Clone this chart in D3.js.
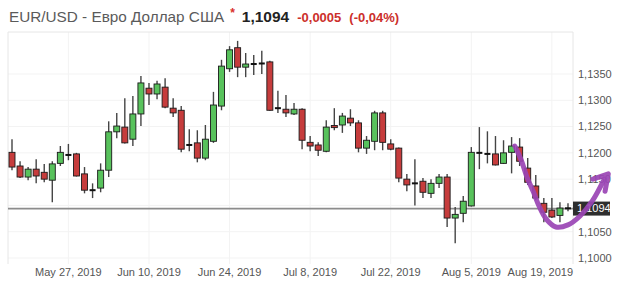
<!DOCTYPE html>
<html><head><meta charset="utf-8">
<script src="https://cdn.jsdelivr.net/npm/d3@7"></script>
<style>
body{margin:0;background:#fff;}
svg{display:block;font-family:"Liberation Sans",Arial,sans-serif;}
</style>
</head><body>
<svg id="chart" width="620" height="282"></svg>
<script>
const dates = [
 "2019-05-16","2019-05-17","2019-05-20","2019-05-21","2019-05-22","2019-05-23","2019-05-24","2019-05-27","2019-05-28","2019-05-29","2019-05-30","2019-05-31",
 "2019-06-03","2019-06-04","2019-06-05","2019-06-06","2019-06-07","2019-06-10","2019-06-11","2019-06-12","2019-06-13","2019-06-14","2019-06-17","2019-06-18","2019-06-19","2019-06-20","2019-06-21","2019-06-24","2019-06-25","2019-06-26","2019-06-27","2019-06-28",
 "2019-07-01","2019-07-02","2019-07-03","2019-07-04","2019-07-05","2019-07-08","2019-07-09","2019-07-10","2019-07-11","2019-07-12","2019-07-15","2019-07-16","2019-07-17","2019-07-18","2019-07-19","2019-07-22","2019-07-23","2019-07-24","2019-07-25","2019-07-26","2019-07-29","2019-07-30","2019-07-31",
 "2019-08-01","2019-08-02","2019-08-05","2019-08-06","2019-08-07","2019-08-08","2019-08-09","2019-08-12","2019-08-13","2019-08-14","2019-08-15","2019-08-16","2019-08-19","2019-08-20","2019-08-21"
];
const openP  = [1.1201,1.1175,1.1154,1.1169,1.1163,1.1148,1.1180,1.1197,1.1198,1.1160,1.1130,1.1133,
 1.1167,1.1240,1.1249,1.1226,1.1274,1.1323,1.1312,1.1325,1.1285,1.1281,1.1216,1.1219,1.1190,1.1222,1.1289,1.1360,1.1400,1.1363,1.1370,1.1369,
 1.1373,1.1286,1.1283,1.1274,1.1283,1.1220,1.1215,1.1203,1.1252,1.1253,1.1266,1.1257,1.1209,1.1222,1.1276,1.1217,1.1209,1.1150,1.1143,1.1146,1.1123,1.1142,1.1154,
 1.1076,1.1085,1.1099,1.1201,1.1199,1.1198,1.1180,1.1201,1.1211,1.1171,1.1137,1.1104,1.1091,1.1081,1.1095];
const highP  = [1.1226,1.1184,1.1173,1.1188,1.1179,1.1184,1.1213,1.1217,1.1200,1.1173,1.1142,1.1180,
 1.1260,1.1276,1.1304,1.1308,1.1346,1.1333,1.1337,1.1342,1.1304,1.1289,1.1245,1.1243,1.1253,1.1316,1.1377,1.1403,1.1413,1.1390,1.1386,1.1394,
 1.1375,1.1318,1.1310,1.1295,1.1285,1.1232,1.1220,1.1262,1.1285,1.1276,1.1283,1.1262,1.1232,1.1280,1.1280,1.1226,1.1210,1.1160,1.1188,1.1152,1.1150,1.1160,1.1160,
 1.1097,1.1118,1.1211,1.1249,1.1241,1.1232,1.1224,1.1230,1.1228,1.1190,1.1158,1.1114,1.1114,1.1106,1.1104];
const lowP   = [1.1167,1.1152,1.1148,1.1142,1.1144,1.1106,1.1175,1.1186,1.1155,1.1123,1.1114,1.1125,
 1.1154,1.1228,1.1218,1.1213,1.1251,1.1291,1.1302,1.1285,1.1268,1.1201,1.1203,1.1182,1.1186,1.1219,1.1281,1.1354,1.1344,1.1344,1.1348,1.1350,
 1.1280,1.1276,1.1268,1.1272,1.1207,1.1203,1.1194,1.1201,1.1243,1.1238,1.1251,1.1201,1.1198,1.1205,1.1205,1.1205,1.1144,1.1127,1.1100,1.1114,1.1114,1.1133,1.1059,
 1.1028,1.1068,1.1098,1.1169,1.1180,1.1176,1.1179,1.1161,1.1175,1.1139,1.1110,1.1068,1.1076,1.1068,1.1089];
const closeP = [1.1173,1.1154,1.1169,1.1156,1.1150,1.1179,1.1201,1.1195,1.1156,1.1129,1.1128,1.1167,
 1.1240,1.1251,1.1219,1.1274,1.1333,1.1312,1.1331,1.1287,1.1276,1.1207,1.1214,1.1190,1.1226,1.1291,1.1365,1.1396,1.1363,1.1369,1.1368,1.1371,
 1.1281,1.1284,1.1276,1.1283,1.1224,1.1213,1.1205,1.1249,1.1248,1.1270,1.1257,1.1209,1.1224,1.1276,1.1220,1.1207,1.1152,1.1139,1.1141,1.1125,1.1142,1.1154,1.1076,
 1.1083,1.1108,1.1201,1.1199,1.1197,1.1177,1.1200,1.1213,1.1184,1.1144,1.1114,1.1087,1.1078,1.1095,1.1094];

const yTicks = [1.1000,1.1050,1.1100,1.1150,1.1200,1.1250,1.1300,1.1350];
const xTickDates = ["2019-05-27","2019-06-10","2019-06-24","2019-07-08","2019-07-22","2019-08-05","2019-08-19"];
const xTickLabels = ["May 27, 2019","Jun 10, 2019","Jun 24, 2019","Jul 8, 2019","Jul 22, 2019","Aug 5, 2019","Aug 19, 2019"];
const lastPrice = 1.1094;
const titleName = "EUR/USD - Евро Доллар США";
const titlePrice = "1,1094";
const titleChange = "-0,0005";
const titlePct = "(-0,04%)";
// hand-drawn annotation arrow, in (candle index, price) units
const arrowIdx   = [62.4,63.2,63.9,64.7,65.4,66.3,67.5,69.0,70.5,72.0,73.5];
const arrowPrice = [1.1213,1.1186,1.1154,1.1126,1.1099,1.1074,1.1059,1.1063,1.1080,1.1108,1.1150];
const headIdx    = [72.1,74.0,73.6];
const headPrice  = [1.1150,1.1160,1.1127];

const svg = d3.select("#chart");
const plot = {left: 8, right: 573, top: 32, bottom: 264};
const x = d3.scalePoint().domain(dates).range([12, 568]);
const xi = d3.scaleLinear().domain([0, dates.length - 1]).range([12, 568]);
const y = d3.scaleLinear().domain([1.1000, 1.1350]).range([258, 74]);
const fmt = v => d3.format(".4f")(v).replace(".", ",");

// grid
const g = svg.append("g");
g.selectAll("line.hg").data(yTicks).join("line")
  .attr("x1", plot.left).attr("x2", plot.right)
  .attr("y1", d => y(d)).attr("y2", d => y(d))
  .attr("stroke", "#f3f3f3").attr("stroke-width", 1);
g.selectAll("line.vg").data(xTickDates).join("line")
  .attr("x1", d => x(d)).attr("x2", d => x(d))
  .attr("y1", plot.top).attr("y2", plot.bottom)
  .attr("stroke", "#f3f3f3").attr("stroke-width", 1);
// frame
g.append("line").attr("x1", plot.left).attr("x2", plot.right).attr("y1", plot.top).attr("y2", plot.top).attr("stroke", "#e6e6e6");
g.append("line").attr("x1", plot.left).attr("x2", plot.left).attr("y1", plot.top).attr("y2", plot.bottom).attr("stroke", "#e6e6e6");
g.append("line").attr("x1", plot.right).attr("x2", plot.right).attr("y1", plot.top).attr("y2", plot.bottom).attr("stroke", "#e6e6e6");

// last price line
svg.append("line").attr("x1", plot.left).attr("x2", plot.right)
  .attr("y1", y(lastPrice)).attr("y2", y(lastPrice))
  .attr("stroke", "#8c8c8c").attr("stroke-width", 1.6);

// candles
const data = dates.map((d, i) => ({d, o: openP[i], h: highP[i], l: lowP[i], c: closeP[i]}));
const cg = svg.append("g");
const bw = 6;
const isDoji = d => Math.abs(d.o - d.c) < 0.0003;
cg.selectAll("line.wick").data(data).join("line")
  .attr("x1", d => x(d.d)).attr("x2", d => x(d.d))
  .attr("y1", d => y(d.h)).attr("y2", d => y(d.l))
  .attr("stroke", "#444").attr("stroke-width", 1.4);
cg.selectAll("rect.body").data(data).join("rect")
  .attr("x", d => x(d.d) - bw / 2)
  .attr("width", bw)
  .attr("y", d => isDoji(d) ? y((d.o + d.c) / 2) - 1 : y(Math.max(d.o, d.c)))
  .attr("height", d => isDoji(d) ? 2 : Math.max(2, y(Math.min(d.o, d.c)) - y(Math.max(d.o, d.c))))
  .attr("fill", d => isDoji(d) ? "#111" : (d.c > d.o ? "#58c25c" : "#c63c3c"))
  .attr("stroke", d => isDoji(d) ? "none" : "#1a1a1a")
  .attr("stroke-width", 0.9);

// y axis labels (ticks hidden behind the last-price marker are skipped)
const shownTicks = yTicks.filter(v => Math.abs(y(v) - y(lastPrice)) > 10);
svg.append("g").selectAll("text").data(shownTicks).join("text")
  .attr("x", 578).attr("y", d => y(d)).attr("dy", "0.35em")
  .attr("font-size", 11).attr("fill", "#555").text(d => fmt(d));

// last price box
svg.append("rect").attr("x", plot.right).attr("y", y(lastPrice) - 7).attr("width", 37).attr("height", 14).attr("fill", "#2e2e2e");
svg.append("text").attr("x", plot.right + 4).attr("y", y(lastPrice)).attr("dy", "0.35em")
  .attr("font-size", 11).attr("fill", "#fff").text(fmt(lastPrice));

// x axis labels
const xl = svg.append("g").selectAll("text").data(xTickDates).join("text")
  .attr("x", d => x(d)).attr("y", 276).attr("text-anchor", "middle")
  .attr("font-size", 11).attr("fill", "#555").text((d, i) => xTickLabels[i]);
xl.each(function(d) {
  const w = this.getComputedTextLength();
  const cx = x(d);
  if (cx + w / 2 > plot.right) d3.select(this).attr("x", plot.right - w / 2);
});

// title
const t = svg.append("text").attr("x", 9).attr("y", 22).attr("font-size", 15.3);
t.append("tspan").attr("fill", "#5a5a5a").text(titleName);
t.append("tspan").attr("fill", "#d9302c").attr("font-size", 12).attr("font-weight", "bold").attr("dx", 6).attr("dy", -5).text("*");
t.append("tspan").attr("fill", "#222").attr("font-weight", "bold").attr("font-size", 15.5).attr("dx", 7).attr("dy", 5).text(titlePrice);
t.append("tspan").attr("fill", "#cc2f2b").attr("font-weight", "bold").attr("font-size", 13).attr("dx", 8).text(titleChange);
t.append("tspan").attr("fill", "#cc2f2b").attr("font-weight", "bold").attr("font-size", 13).attr("dx", 8).text(titlePct);

// annotation arrow
const pts = arrowIdx.map((v, i) => [xi(v), y(arrowPrice[i])]);
const line = d3.line().curve(d3.curveCatmullRom);
const purple = "#9a44b4";
svg.append("path").attr("d", line(pts)).attr("fill", "none").attr("stroke", purple)
  .attr("stroke-width", 5).attr("stroke-linecap", "round").attr("stroke-linejoin", "round").attr("opacity", 0.92);
const hp = headIdx.map((v, i) => [xi(v), y(headPrice[i])]);
svg.append("path").attr("d", d3.line()(hp)).attr("fill", "none").attr("stroke", purple)
  .attr("stroke-width", 5).attr("stroke-linecap", "round").attr("stroke-linejoin", "round").attr("opacity", 0.92);
</script>
</body></html>
